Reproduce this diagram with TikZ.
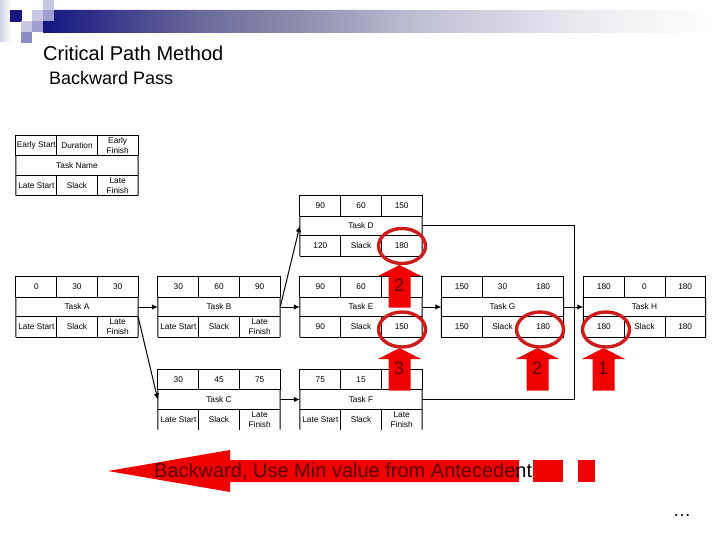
\documentclass[tikz,border=0pt]{standalone}
\usepackage{fontspec}
\setmainfont{Liberation Sans}
\usetikzlibrary{arrows.meta}
\definecolor{barblue}{RGB}{20,20,128}
\definecolor{bandA}{RGB}{106,106,154}
\definecolor{bandB}{RGB}{142,142,174}
\definecolor{bandC}{RGB}{192,192,212}
\definecolor{bandD}{RGB}{238,238,242}
\definecolor{pale}{RGB}{200,200,228}
\definecolor{mid}{RGB}{160,160,208}
\definecolor{deep}{RGB}{140,140,196}
\definecolor{arrowred}{RGB}{240,0,0}
\definecolor{ringred}{RGB}{204,28,28}
\definecolor{inkred}{RGB}{90,4,4}
\pgfdeclarehorizontalshading{bandfade}{100bp}{
	color(0bp)=(barblue); color(25bp)=(barblue);
	color(36.7bp)=(bandA); color(44.2bp)=(bandB);
	color(53.2bp)=(bandC); color(66.6bp)=(bandD);
	color(75bp)=(white); color(100bp)=(white)}
\tikzset{
	cell/.style={inner sep=0pt,minimum width=40.67pt,minimum height=20pt,align=center,
		font=\fontsize{8.3}{10}\selectfont},
	taskrow/.style={cell,minimum width=122pt},
	grid/.style={line width=1pt},
	link/.style={line width=1pt,-{Latex[length=6pt,width=5.5pt]}},
	joinline/.style={line width=1pt},
	ring/.style={draw=ringred,line width=3.4pt},
	bigtext/.style={inner sep=0pt,anchor=base west}
}
% one task box: name, centre, top row, task label, bottom row
\newcommand{\taskbox}[9]{
	\node[taskrow] (#1) at #2 {#6};
	\node[cell,shift={(-40.67,-20)}] (#1-a) at #2 {#3};
	\node[cell,shift={(0,-20)}] (#1-b) at #2 {#4};
	\node[cell,shift={(40.67,-20)}] (#1-c) at #2 {#5};
	\node[cell,shift={(-40.67,20)}] (#1-d) at #2 {#7};
	\node[cell,shift={(0,20)}] (#1-e) at #2 {#8};
	\node[cell,shift={(40.67,20)}] (#1-f) at #2 {#9};
	\draw[grid] (#1-a.south west) -- (#1-a.north west) -- (#1-c.north east) -- (#1-c.south east);
	\draw[grid] (#1-d.north west) -- (#1-f.north east);
	\draw[grid] (#1-a.south west) -- (#1-c.south east);
	\draw[grid] (#1.north west) -- (#1.south west) -- (#1-d.south west);
	\draw[grid] (#1.north east) -- (#1.south east) -- (#1-f.south east);
	\draw[grid] (#1-a.north east) -- (#1-a.south east);
	\draw[grid] (#1-d.north east) -- (#1-d.south east);
}
\begin{document}
\begin{tikzpicture}[x=1pt,y=-1pt]
	\useasboundingbox (0,0) rectangle (720,540);
	% banner
	\fill[left color=pale!80,right color=white] (0,0) rectangle (11,42);
	\shade[shading=bandfade] (54,10) -- (712,10) -- (712,33) -- (43,33) -- (43,21) -- (54,21) -- cycle;
	\fill[barblue] (10,10) rectangle (22,22);
	\fill[pale] (32,10) rectangle (43,21);
	\fill[pale] (43,0) rectangle (54,10);
	\fill[mid] (43,10) rectangle (54,21);
	\fill[pale] (21,21) rectangle (32,32);
	\fill[mid] (32,21) rectangle (43,32);
	\fill[deep] (21,32) rectangle (32,43);
	\node[bigtext,font=\fontsize{20}{24}\selectfont] (title) at (43,61) {Critical Path Method};
	\node[bigtext,font=\fontsize{18}{22}\selectfont] (subtitle) at (49,85) {Backward Pass};
	% task boxes
	\taskbox{legend}{(77,165.5)}{Early Start}{Duration}{Early\\Finish}{Task Name}{Late Start}{Slack}{Late\\Finish}
	\taskbox{taskA}{(77,307)}{0}{30}{30}{Task A}{Late Start}{Slack}{Late\\Finish}
	\taskbox{taskB}{(219,307)}{30}{60}{90}{Task B}{Late Start}{Slack}{Late\\Finish}
	\taskbox{taskC}{(219,399.5)}{30}{45}{75}{Task C}{Late Start}{Slack}{Late\\Finish}
	\taskbox{taskD}{(361,226)}{90}{60}{150}{Task D}{120}{Slack}{180}
	\taskbox{taskE}{(361,307)}{90}{60}{}{Task E}{90}{Slack}{150}
	\taskbox{taskF}{(361,399.5)}{75}{15}{}{Task F}{Late Start}{Slack}{Late\\Finish}
	\taskbox{taskG}{(502.5,307)}{150}{30}{180}{Task G}{150}{Slack}{180}
	\taskbox{taskH}{(644.5,307)}{180}{0}{180}{Task H}{180}{Slack}{180}
	\foreach \t in {legend,taskA,taskB,taskD,taskE,taskG,taskH}
		\draw[grid] (\t-d.south west) -- (\t-f.south east);
	\foreach \t in {legend,taskA,taskB,taskC,taskD,taskE,taskF,taskH}{
		\draw[grid] (\t-b.north east) -- (\t-b.south east);
		\draw[grid] (\t-e.north east) -- (\t-e.south east);
	}
	% connectors
	\coordinate (joinH) at (574.5,307);
	\draw[link] (taskA) -- (taskB);
	\draw[link] (taskB) -- (taskE);
	\draw[link] (taskE) -- (taskG);
	\draw[link] (taskG) -- (taskH);
	\draw[link] (taskC) -- (taskF);
	\draw[link] (taskA.south east) -- (taskC.west);
	\draw[link] (taskB.east) -- (taskD.west);
	\draw[joinline] (taskD.east) -| (joinH);
	\draw[joinline] (taskF.east) -| (joinH);
	% red arrows and rings
	\foreach \ax/\ay/\num in {399.5/265/2,399.5/348/3,537.5/348/2,603.5/348/1}{
		\fill[arrowred] (\ax,\ay) -- ++(21.5,11) -- ++(-10.5,0) -- ++(0,31.5) -- ++(-22,0)
			-- ++(0,-31.5) -- ++(-10.5,0) -- cycle;
		\node[inner sep=0pt,text=inkred,font=\fontsize{18}{20}\selectfont] at (\ax-0.5,\ay+20.5) {\num};
	}
	\foreach \rx/\ry in {402/246,402/329.5,540/329.5,606/329.5}
		\draw[ring] (\rx,\ry) ellipse (23.5 and 17.5);
	% backward arrow
	\fill[arrowred] (108,471) -- (230,450) -- (230,460) -- (519,460) -- (519,482)
		-- (230,482) -- (230,492) -- cycle;
	\fill[arrowred] (533,460) rectangle (563,482);
	\fill[arrowred] (577.5,460) rectangle (595,482);
	\node[bigtext,font=\fontsize{20}{24}\selectfont] (pass) at (154,477.5)
		{\textcolor{inkred}{Backward, Use Min value from Antecede}nt};
	\node[bigtext,font=\fontsize{18}{22}\selectfont] (more) at (673,516) {\ldots};
\end{tikzpicture}
\end{document}
